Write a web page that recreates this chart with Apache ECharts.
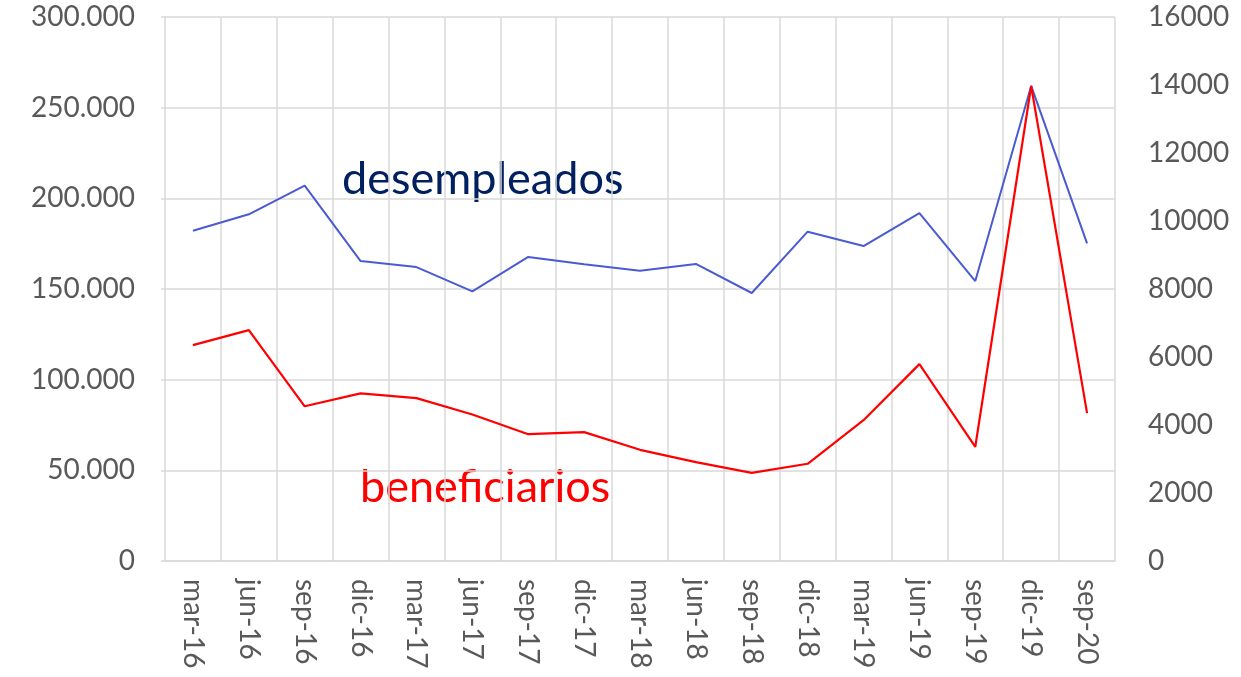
<!DOCTYPE html>
<html>
<head>
<meta charset="utf-8">
<script src="https://cdn.jsdelivr.net/npm/echarts@6/dist/echarts.min.js"></script>
<style>
  html, body { margin: 0; padding: 0; background: #fff; }
  #main { width: 1241px; height: 677px; }
</style>
</head>
<body>
<div id="main"></div>
<script>
// trimestres
var categorias = ['mar-16', 'jun-16', 'sep-16', 'dic-16', 'mar-17', 'jun-17', 'sep-17', 'dic-17',
  'mar-18', 'jun-18', 'sep-18', 'dic-18', 'mar-19', 'jun-19', 'sep-19', 'dic-19', 'sep-20']

// eje izquierdo
var desempleados = [182100, 191200, 207000, 165400, 162100, 148700, 167700, 163700,
  160100, 163800, 147800, 181600, 173700, 191900, 154400, 262000, 175200]

// eje derecho
var beneficiarios = [6350, 6790, 4550, 4930, 4790, 4310, 3730, 3790,
  3270, 2910, 2590, 2860, 4140, 5790, 3360, 13970, 4350]

var fuente = 'Lato, "Open Sans", sans-serif'
var gris = '#595959'
var rejilla = '#d9d9d9'

function miles(v) {
  // 300000 -> 300.000
  return String(v).replace(/\B(?=(\d{3})+(?!\d))/g, '.')
}

var chart = echarts.init(document.getElementById('main'), null, { renderer: 'canvas' })

var option = {
  backgroundColor: '#fff',
  animation: false,
  grid: { left: 165, right: 126, top: 17, bottom: 116 },
  xAxis: {
    type: 'category',
    data: categorias,
    boundaryGap: true,
    axisLine: { show: true, lineStyle: { color: rejilla, width: 1.5 } },
    axisTick: { show: false },
    splitLine: { show: true, lineStyle: { color: rejilla, width: 1.5 } },
    axisLabel: {
      rotate: -90,
      margin: 18,
      color: gris,
      fontFamily: fuente,
      fontSize: 28,
      interval: 0,
    },
  },
  yAxis: [
    {
      type: 'value',
      min: 0,
      max: 300000,
      interval: 50000,
      axisLine: { show: false },
      axisTick: { show: true, length: 4, lineStyle: { color: rejilla, width: 1.5 } },
      splitLine: { show: true, lineStyle: { color: rejilla, width: 1.5 } },
      axisLabel: {
        margin: 30,
        color: gris,
        fontFamily: fuente,
        fontSize: 28,
        formatter: miles,
      },
    },
    {
      type: 'value',
      min: 0,
      max: 16000,
      interval: 2000,
      axisLine: { show: false },
      axisTick: { show: false },
      splitLine: { show: false },
      axisLabel: {
        margin: 33,
        color: gris,
        fontFamily: fuente,
        fontSize: 28,
        formatter: function (v) { return String(v) },
      },
    },
  ],
  series: [
    {
      name: 'desempleados',
      type: 'line',
      yAxisIndex: 0,
      data: desempleados,
      symbol: 'none',
      lineStyle: { color: '#4a5bd1', width: 2 },
      itemStyle: { color: '#4a5bd1' },
    },
    {
      name: 'beneficiarios',
      type: 'line',
      yAxisIndex: 1,
      data: beneficiarios,
      symbol: 'none',
      lineStyle: { color: '#ff0000', width: 2.2 },
      itemStyle: { color: '#ff0000' },
    },
  ],
  graphic: [
    {
      type: 'text',
      left: 342,
      top: 157,
      style: { text: 'desempleados', fill: '#002060', font: '45px ' + fuente },
    },
    {
      type: 'text',
      left: 360,
      top: 465,
      style: { text: 'beneficiarios', fill: '#ff0000', font: '45px ' + fuente },
    },
  ],
}

chart.setOption(option)
</script>
</body>
</html>
